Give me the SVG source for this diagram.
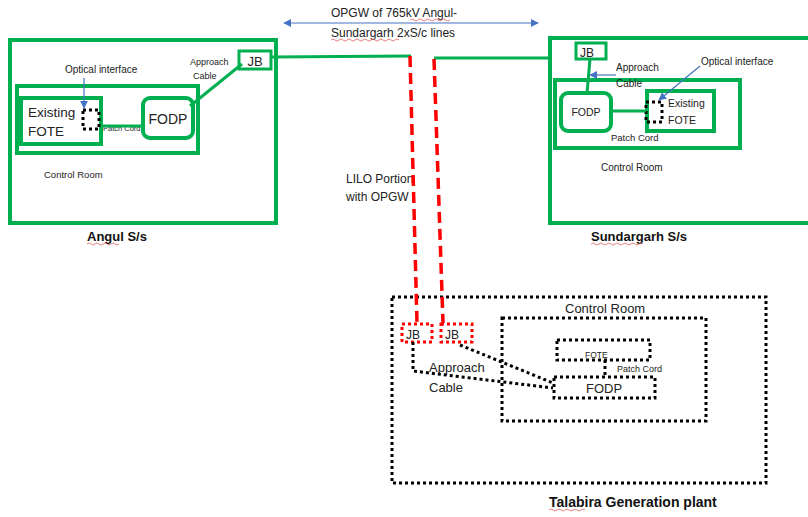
<svg xmlns="http://www.w3.org/2000/svg" width="808" height="517" viewBox="0 0 808 517">
<defs>
<style>
.g{fill:none;stroke:#00B050;stroke-width:4}
.g3{fill:none;stroke:#00B050;stroke-width:3}
.d{fill:none;stroke:#000;stroke-width:3;stroke-dasharray:3 3}
.rd{fill:none;stroke:#FF0000;stroke-width:3;stroke-dasharray:3 3}
.rl{fill:none;stroke:#FF0000;stroke-width:3.5;stroke-dasharray:11 6}
.b{fill:none;stroke:#4472C4;stroke-width:1.2}
text{font-family:"Liberation Sans",Arial,sans-serif;fill:#222}
.bold{font-weight:bold;fill:#111}
.sq{fill:none;stroke:#E06060;stroke-width:0.8}
</style>
<marker id="ah" viewBox="0 0 10 10" refX="9" refY="5" markerWidth="8" markerHeight="8" orient="auto-start-reverse" markerUnits="userSpaceOnUse">
<path d="M0,0L10,5L0,10z" fill="#4472C4"/>
</marker>
</defs>
<rect width="808" height="517" fill="#fff"/>

<g id="angul">
<rect class="g" x="10" y="40" width="266" height="183"/>
<rect class="g" x="17" y="86" width="181" height="67"/>
<text x="44" y="178" font-size="9.5">Control Room</text>
<text class="bold" x="87" y="241" font-size="13">Angul S/s</text>
<path class="sq" d="M87,244q2,-2 4,0t4,0t4,0t4,0t4,0t4,0t4,0t4,0"/>
</g>
<g id="angul-fote">
<rect class="g" x="21" y="98" width="80" height="46"/>
<text x="28" y="117" font-size="13.5">Existing</text>
<text x="28" y="136" font-size="13.5">FOTE</text>
<rect class="d" x="83" y="110" width="16" height="19"/>
</g>
<g id="angul-fodp">
<rect class="g" x="143" y="98" width="50" height="40" rx="7"/>
<text x="168" y="124" font-size="14" text-anchor="middle">FODP</text>
</g>
<g id="angul-jb">
<rect class="g3" x="239" y="51" width="32" height="18"/>
<text x="255" y="66" font-size="13" text-anchor="middle">JB</text>
</g>
<text x="65" y="73" font-size="10">Optical interface</text>
<text x="190" y="65" font-size="9">Approach</text>
<text x="193" y="79" font-size="9">Cable</text>
<text x="103" y="131" font-size="7.5">Patch Cord</text>

<g id="sundargarh">
<rect class="g" x="550" y="38" width="262" height="185"/>
<rect class="g" x="555" y="80" width="185" height="68"/>
<text x="601" y="171" font-size="10">Control Room</text>
<text class="bold" x="591" y="241" font-size="13">Sundargarh S/s</text>
<path class="sq" d="M591,244q2,-2 4,0t4,0t4,0t4,0t4,0t4,0t4,0t4,0t4,0t4,0t4,0t4,0t4,0"/>
</g>
<g id="sund-jb">
<rect class="g3" x="576" y="43" width="30" height="16"/>
<text x="580" y="57" font-size="12">JB</text>
</g>
<g id="sund-fodp">
<rect class="g" x="561" y="93" width="50" height="38" rx="7"/>
<text x="586" y="116" font-size="10.5" text-anchor="middle">FODP</text>
</g>
<g id="sund-fote">
<rect class="g" x="647" y="91" width="67" height="40"/>
<text x="668" y="107" font-size="10.5">Existing</text>
<text x="668" y="124" font-size="10.5">FOTE</text>
<rect class="d" x="646" y="102" width="16" height="20"/>
</g>
<text x="616" y="71" font-size="10">Approach</text>
<text x="616" y="87" font-size="10">Cable</text>
<text x="701" y="65" font-size="10">Optical interface</text>
<text x="611" y="141" font-size="9.5">Patch Cord</text>

<g id="talabira">
<rect class="d" x="392" y="297" width="374" height="186"/>
<text class="bold" x="549" y="507" font-size="14">Talabira Generation plant</text>
<path class="sq" d="M549,510q2,-2 4,0t4,0t4,0t4,0t4,0t4,0t4,0t4,0t4,0"/>
</g>
<g id="tal-control-room">
<rect class="d" x="502" y="318" width="204" height="103"/>
<text x="565" y="313" font-size="13">Control Room</text>
</g>
<g id="tal-fote">
<rect class="d" x="557" y="340" width="93" height="20"/>
<text x="585" y="358" font-size="8.5">FOTE</text>
</g>
<g id="tal-fodp">
<rect class="d" x="554" y="377" width="101" height="21"/>
<text x="586" y="393" font-size="13">FODP</text>
</g>
<g id="tal-jb1">
<rect class="rd" x="402" y="324" width="30" height="18"/>
<text x="406" y="339" font-size="12">JB</text>
</g>
<g id="tal-jb2">
<rect class="rd" x="441" y="324" width="31" height="18"/>
<text x="445" y="339" font-size="12">JB</text>
</g>
<text x="617" y="372" font-size="9">Patch Cord</text>
<text x="429" y="372" font-size="13">Approach</text>
<text x="429" y="392" font-size="13">Cable</text>
<text x="346" y="183" font-size="12">LILO Portion</text>
<text x="346" y="201" font-size="12">with OPGW</text>
<text x="331" y="17" font-size="12">OPGW of 765kV Angul-</text>
<text x="331" y="37" font-size="12">Sundargarh 2xS/c lines</text>
<path class="sq" d="M410,20q2,-2 4,0t4,0t4,0t4,0t4,0t4,0t4,0t4,0t4,0t4,0 M331,40q2,-2 4,0t4,0t4,0t4,0t4,0t4,0t4,0t4,0t4,0t4,0t4,0t4,0t4,0t4,0t4,0t4,0t4,0"/>

<g id="connectors">
<line class="b" x1="284" y1="23" x2="538" y2="23" marker-start="url(#ah)" marker-end="url(#ah)"/>
<line class="g3" x1="271" y1="57" x2="411" y2="56"/>
<line class="g3" x1="434" y1="58" x2="550" y2="58"/>
<line class="rl" x1="410" y1="56" x2="417" y2="323"/>
<line class="rl" x1="434" y1="59" x2="443" y2="323"/>
<line class="g3" x1="242" y1="64" x2="190" y2="106"/>
<line class="g3" x1="101" y1="126" x2="143" y2="126"/>
<line class="b" x1="84" y1="78" x2="84" y2="108" marker-end="url(#ah)"/>
<line class="g3" x1="590" y1="59" x2="587" y2="93"/>
<line class="g3" x1="611" y1="111" x2="646" y2="111"/>
<line class="b" x1="616" y1="75" x2="590" y2="75" marker-end="url(#ah)"/>
<line class="b" x1="700" y1="66" x2="659" y2="100" marker-end="url(#ah)"/>
<polyline class="d" points="413,342 413,371 553,388"/>
<line class="d" x1="460" y1="345" x2="553" y2="383"/>
<line class="d" x1="605" y1="360" x2="605" y2="377"/>
</g>
</svg>
